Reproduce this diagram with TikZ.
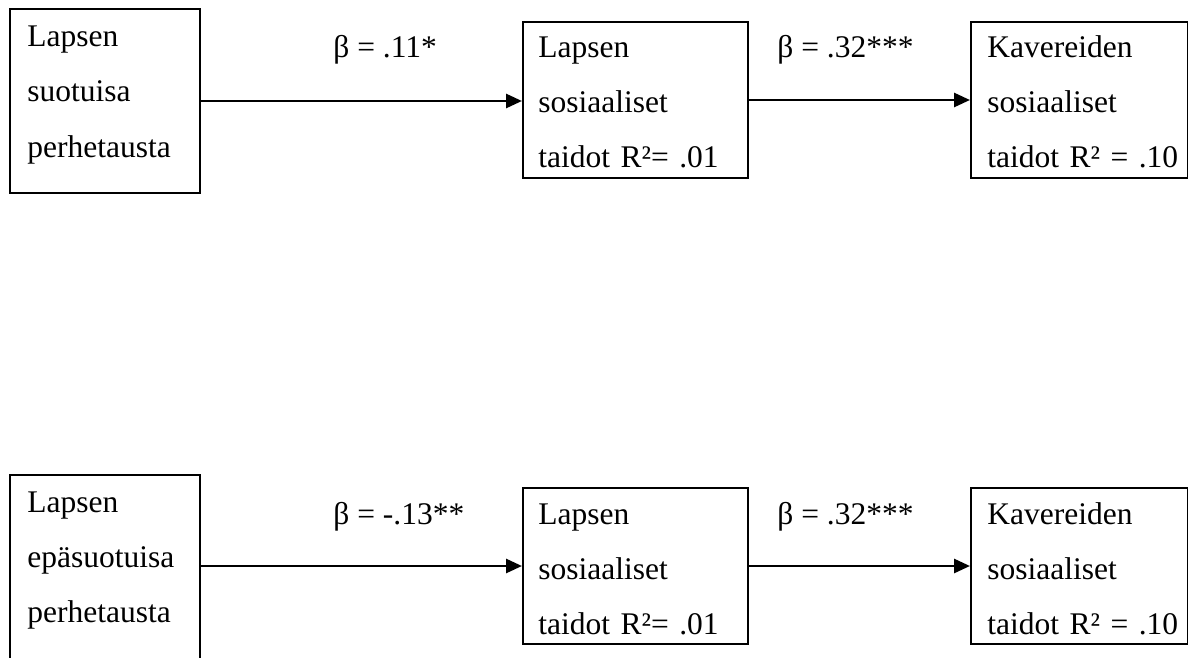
\documentclass[tikz,border=0pt]{standalone}
\usepackage{fontspec}
\setmainfont{Liberation Serif}
\usetikzlibrary{arrows.meta}
\begin{document}
\begin{tikzpicture}[x=0.5pt,y=-0.5pt,
  box/.style={draw=black,line width=1pt,rectangle,inner sep=0pt,anchor=north west},
  txt/.style={inner sep=0pt,anchor=base west,align=left,text width=200pt,
    font=\fontsize{15.75}{27.5}\selectfont},
  lbl/.style={inner sep=0pt,anchor=base west,font=\fontsize{15.75}{18}\selectfont},
  arr/.style={line width=1.4pt,-{Triangle[length=8pt,width=7pt]}}]
\useasboundingbox (0,0) rectangle (1188,658);
% top row
\node[box,minimum width=95pt,minimum height=92pt] (A) at (9,8) {};
\node[txt] (At) at (27,47) {Lapsen\\suotuisa\\perhetausta};
\node[box,minimum width=112.5pt,minimum height=78pt] (B) at (522,21) {};
\node[txt] (Bt) at (538,58) {Lapsen\\sosiaaliset\\taidot R²= .01};
\node[box,minimum width=108.5pt,minimum height=78pt] (C) at (970,21) {};
\node[txt] (Ct) at (987,58) {Kavereiden\\sosiaaliset\\taidot R² = .10};
\node[lbl] (L1) at (333,58) {β = .11*};
\node[lbl] (L2) at (777,58) {β = .32***};
\draw[arr] (A.east) -- (A.east -| B.west);
\draw[arr] (B.east) -- (C.west);
% bottom row
\node[box,minimum width=95pt,minimum height=94pt] (D) at (9,474) {};
\node[txt] (Dt) at (27,512) {Lapsen\\epäsuotuisa\\perhetausta};
\node[box,minimum width=112.5pt,minimum height=78pt] (E) at (522,487) {};
\node[txt] (Et) at (538,524) {Lapsen\\sosiaaliset\\taidot R²= .01};
\node[box,minimum width=108.5pt,minimum height=78pt] (F) at (970,487) {};
\node[txt] (Ft) at (987,524) {Kavereiden\\sosiaaliset\\taidot R² = .10};
\node[lbl] (L3) at (333,524) {β = -.13**};
\node[lbl] (L4) at (777,524) {β = .32***};
\draw[arr] (D.east |- E.west) -- (E.west);
\draw[arr] (E.east) -- (F.west);
\end{tikzpicture}
\end{document}
